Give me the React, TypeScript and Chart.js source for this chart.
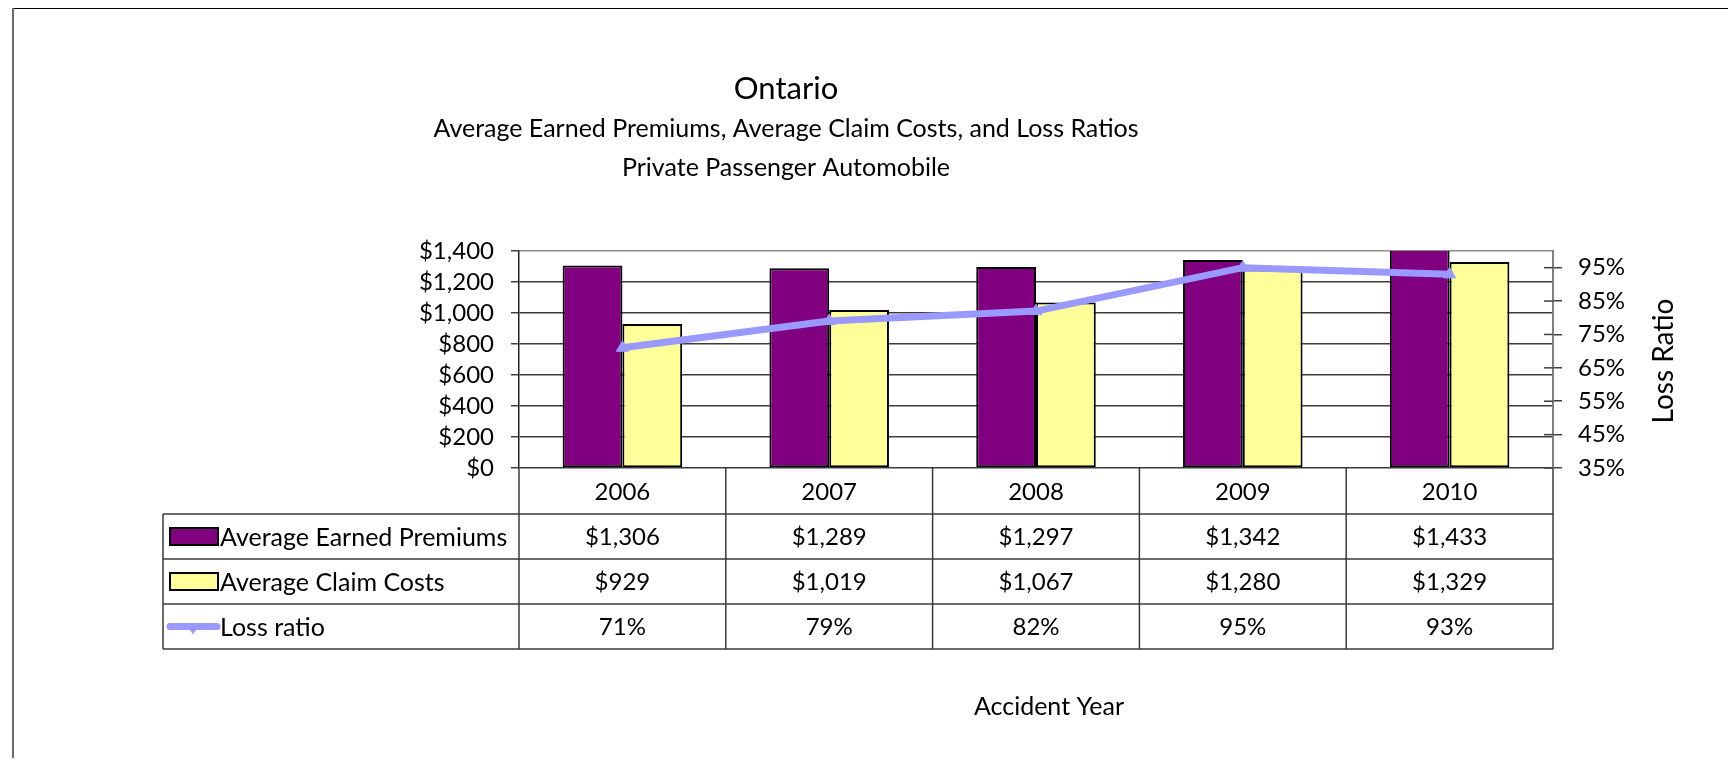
import React, { useEffect, useRef } from 'react';
import { Chart, registerables } from 'chart.js';

Chart.register(...registerables);

// ---- Data ----
const YEARS = ['2006', '2007', '2008', '2009', '2010'];
const PREMIUMS = [1306, 1289, 1297, 1342, 1433];
const CLAIMS = [929, 1019, 1067, 1280, 1329];
const LOSS_RATIO = [71, 79, 82, 95, 93];
const LEFT_TICKS = [0, 200, 400, 600, 800, 1000, 1200, 1400];
const RIGHT_TICKS = [35, 45, 55, 65, 75, 85, 95];
const TITLE = 'Ontario';
const SUBTITLES = [
  'Average Earned Premiums, Average Claim Costs, and Loss Ratios',
  'Private Passenger Automobile',
];
const SERIES_NAMES = ['Average Earned Premiums', 'Average Claim Costs', 'Loss ratio'];
const X_TITLE = 'Accident Year';
const Y2_TITLE = 'Loss Ratio';

// ---- Styles ----
const COLORS = { premiums: '#800080', claims: '#FFFF99', loss: '#9999FF' };
const FONT_FAMILY = 'Lato, "Open Sans", sans-serif';
const W = 1720;
const H = 750;

const fmtMoney = (v: number) => '$' + Number(v).toLocaleString('en-US');

const decorPlugin = {
  id: 'excelDecor',
  afterDraw(chart: any) {
    const { ctx, chartArea: a, scales } = chart;
    const x = scales.x;
    const yR = scales.yR;
    const line = (x1: number, y1: number, x2: number, y2: number) => {
      ctx.beginPath();
      ctx.moveTo(x1, y1);
      ctx.lineTo(x2, y2);
      ctx.stroke();
    };
    ctx.save();

    // outer frame (top and left only visible)
    ctx.strokeStyle = '#000';
    ctx.lineWidth = 1;
    line(4, 0.5, chart.width, 0.5);
    ctx.strokeStyle = '#6a6a6a';
    ctx.lineWidth = 2;
    line(5, 0, 5, chart.height);

    // inner half of right-axis crossing tick marks
    ctx.strokeStyle = '#404040';
    ctx.lineWidth = 1.5;
    RIGHT_TICKS.forEach((v) => {
      const yy = yR.getPixelForValue(v);
      line(a.right - 9, yy, a.right, yy);
    });

    // titles
    ctx.fillStyle = '#000';
    ctx.textAlign = 'center';
    ctx.textBaseline = 'middle';
    const tcx = 778;
    ctx.font = `31px ${FONT_FAMILY}`;
    ctx.fillText(TITLE, tcx, 81);
    ctx.font = `25px ${FONT_FAMILY}`;
    ctx.fillText(SUBTITLES[0], tcx, 121);
    ctx.fillText(SUBTITLES[1], tcx, 160);

    // x title
    ctx.fillText(X_TITLE, 1041, 699);

    // right axis title (rotated, reading bottom to top)
    ctx.save();
    ctx.font = `28px ${FONT_FAMILY}`;
    ctx.translate(1656, 353);
    ctx.rotate(-Math.PI / 2);
    ctx.fillText(Y2_TITLE, 0, 0);
    ctx.restore();

    // ---- data table ----
    const cw = x.getPixelForValue(1) - x.getPixelForValue(0);
    const bounds: number[] = YEARS.map((_, i) => x.getPixelForValue(i) - cw / 2);
    bounds.push(x.getPixelForValue(YEARS.length - 1) + cw / 2);
    const headTop = a.bottom;
    const headBot = a.bottom + 46;
    const rowH = 45;
    const rowsBot = headBot + 3 * rowH;
    const tableLeft = 155;
    const tableRight = bounds[bounds.length - 1];

    ctx.strokeStyle = '#3a3a3a';
    ctx.lineWidth = 1.5;
    for (let r = 0; r <= 3; r++) {
      const yy = headBot + r * rowH;
      line(tableLeft, yy, tableRight, yy);
    }
    bounds.forEach((bx) => line(bx, headTop, bx, rowsBot));
    line(tableLeft, headBot, tableLeft, rowsBot);

    ctx.font = `24px ${FONT_FAMILY}`;
    ctx.fillStyle = '#000';
    ctx.textAlign = 'center';
    const headMid = (headTop + headBot) / 2;
    YEARS.forEach((yr, i) => ctx.fillText(yr, x.getPixelForValue(i), headMid + 1));

    const rows = [
      PREMIUMS.map(fmtMoney),
      CLAIMS.map(fmtMoney),
      LOSS_RATIO.map((v) => v + '%'),
    ];
    rows.forEach((vals, r) => {
      const mid = headBot + r * rowH + rowH / 2;
      ctx.font = `24px ${FONT_FAMILY}`;
      ctx.textAlign = 'center';
      ctx.fillStyle = '#000';
      vals.forEach((t, i) => ctx.fillText(t, x.getPixelForValue(i), mid + 1));
      // legend key
      if (r < 2) {
        ctx.fillStyle = r === 0 ? COLORS.premiums : COLORS.claims;
        ctx.fillRect(162, mid - 8.5, 48, 17);
        ctx.strokeStyle = '#000';
        ctx.lineWidth = 2;
        ctx.strokeRect(162, mid - 8.5, 48, 17);
      } else {
        ctx.strokeStyle = COLORS.loss;
        ctx.lineWidth = 7;
        ctx.lineCap = 'round';
        line(162, mid, 209, mid);
        ctx.lineCap = 'butt';
        ctx.fillStyle = COLORS.loss;
        ctx.beginPath();
        ctx.moveTo(185, mid + 8);
        ctx.lineTo(179, mid - 1);
        ctx.lineTo(191, mid - 1);
        ctx.closePath();
        ctx.fill();
      }
      ctx.fillStyle = '#000';
      ctx.textAlign = 'left';
      ctx.font = `25px ${FONT_FAMILY}`;
      ctx.fillText(SERIES_NAMES[r], 212, mid + 1);
    });

    ctx.restore();
  },
};

export default function App() {
  const ref = useRef<HTMLCanvasElement | null>(null);

  useEffect(() => {
    if (!ref.current) return;
    const tickFont = { family: FONT_FAMILY, size: 24 };
    const chart = new Chart(ref.current, {
      type: 'bar',
      data: {
        labels: YEARS,
        datasets: [
          {
            type: 'line',
            label: SERIES_NAMES[2],
            data: LOSS_RATIO,
            yAxisID: 'yR',
            borderColor: COLORS.loss,
            backgroundColor: COLORS.loss,
            borderWidth: 7,
            pointStyle: 'triangle',
            pointRadius: 7,
            pointBorderWidth: 1,
            order: 0,
          } as any,
          {
            type: 'bar',
            label: SERIES_NAMES[0],
            data: PREMIUMS,
            yAxisID: 'y',
            backgroundColor: COLORS.premiums,
            borderColor: '#000',
            borderWidth: 2,
            borderSkipped: false,
            categoryPercentage: 0.578,
            barPercentage: 1,
            clip: 0,
            order: 1,
          } as any,
          {
            type: 'bar',
            label: SERIES_NAMES[1],
            data: CLAIMS,
            yAxisID: 'y',
            backgroundColor: COLORS.claims,
            borderColor: '#000',
            borderWidth: 2,
            borderSkipped: false,
            categoryPercentage: 0.578,
            barPercentage: 1,
            clip: 0,
            order: 1,
          } as any,
        ],
      },
      options: {
        responsive: false,
        animation: false,
        events: [],
        layout: { padding: { top: 243, bottom: 290, left: 0, right: 0 } },
        plugins: {
          legend: { display: false },
          tooltip: { enabled: false },
          title: { display: false },
        },
        scales: {
          x: { type: 'category', display: false, offset: true },
          y: {
            position: 'left',
            min: 0,
            max: 1400,
            afterBuildTicks: (s: any) => {
              s.ticks = LEFT_TICKS.map((v) => ({ value: v }));
            },
            afterFit: (s: any) => {
              s.width = 511;
            },
            ticks: {
              font: tickFont,
              color: '#000',
              padding: 17,
              autoSkip: false,
              callback: (v: any) => fmtMoney(Number(v)),
            },
            grid: {
              color: (c: any) => (c.tick && c.tick.value === 1400 ? '#8c8c8c' : '#3c3c3c'),
              lineWidth: 1.5,
              tickLength: 8,
              tickColor: '#404040',
            },
            border: { color: '#222', width: 1.5 },
          },
          yR: {
            position: 'right',
            min: 35,
            max: 100,
            afterBuildTicks: (s: any) => {
              s.ticks = RIGHT_TICKS.map((v) => ({ value: v }));
            },
            afterFit: (s: any) => {
              s.width = 175;
            },
            ticks: {
              font: tickFont,
              color: '#000',
              padding: 16,
              autoSkip: false,
              callback: (v: any) => v + '%',
            },
            grid: {
              display: true,
              drawOnChartArea: false,
              tickLength: 9,
              color: '#404040',
              lineWidth: 1.5,
            },
            border: { color: '#808080', width: 2 },
          },
        },
      } as any,
      plugins: [decorPlugin],
    });
    return () => chart.destroy();
  }, []);

  return (
    <div style={{ width: W, height: H, overflow: 'hidden' }}>
      <canvas ref={ref} width={W} height={H} style={{ display: 'block', width: W, height: H }} />
    </div>
  );
}
